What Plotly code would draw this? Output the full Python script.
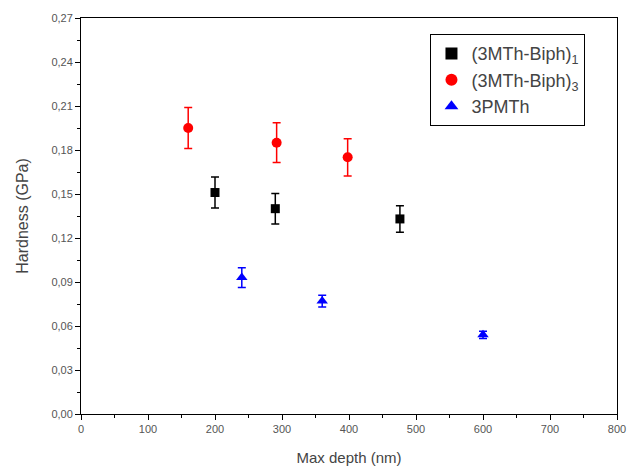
import plotly.graph_objects as go

# Data
b1_x = [200, 290, 476]
b1_y = [0.151, 0.140, 0.133]
b1_err = [0.0106, 0.0104, 0.009]

b3_x = [160, 292, 398]
b3_y = [0.195, 0.185, 0.175]
b3_err = [0.014, 0.0135, 0.0127]

p_x = [240, 360, 600]
p_y = [0.093, 0.077, 0.054]
p_err = [0.0068, 0.004, 0.0025]

names = ["(3MTh-Biph)<sub>1</sub>", "(3MTh-Biph)<sub>3</sub>", "3PMTh"]
x_ticks = [0, 100, 200, 300, 400, 500, 600, 700, 800]
y_ticks = [0.00, 0.03, 0.06, 0.09, 0.12, 0.15, 0.18, 0.21, 0.24, 0.27]

FONT = "Liberation Sans, Arial"

fig = go.Figure()
series = [
    (b1_x, b1_y, b1_err, names[0], "black", "square", 9),
    (b3_x, b3_y, b3_err, names[1], "red", "circle", 10),
    (p_x, p_y, p_err, names[2], "blue", "triangle-up", 10),
]
for i, (xs, ys, es, nm, col, sym, sz) in enumerate(series):
    fig.add_trace(go.Scatter(
        x=xs, y=ys, mode="markers", name=nm, legendgroup=f"g{i}",
        marker=dict(color=col, symbol=sym, size=sz),
        error_y=dict(type="data", array=es, visible=True, color=col, thickness=1.5, width=4),
    ))

axis_common = dict(
    showline=True, linecolor="black", linewidth=1, mirror=True,
    ticks="outside", ticklen=5, tickcolor="black", tickwidth=1,
    showgrid=False, zeroline=False,
    tickfont=dict(family=FONT, size=11, color="#555"),
)
fig.update_xaxes(
    range=[0, 800], tickvals=x_ticks,
    title=dict(text="Max depth (nm)", font=dict(family=FONT, size=15, color="#444"), standoff=18),
    minor=dict(ticks="outside", ticklen=3, tickcolor="black", dtick=50, tick0=0),
    **axis_common,
)
fig.update_yaxes(
    range=[0, 0.27], tickvals=y_ticks, tickformat=".2f",
    title=dict(text="Hardness (GPa)", font=dict(family=FONT, size=16, color="#444"), standoff=18),
    minor=dict(ticks="outside", ticklen=3, tickcolor="black", dtick=0.015, tick0=0),
    **axis_common,
)
fig.update_layout(
    width=638, height=476,
    margin=dict(l=81, r=12, t=15, b=59),
    paper_bgcolor="white", plot_bgcolor="white",
    separators=",.",
    showlegend=True,
    legend=dict(
        x=0.652, y=0.959, xanchor="left", yanchor="top",
        bordercolor="black", borderwidth=1, bgcolor="white",
        font=dict(family=FONT, size=18, color="#444"),
        itemsizing="constant", traceorder="grouped", tracegroupgap=0,
    ),
)
fig.write_html("out.html")
